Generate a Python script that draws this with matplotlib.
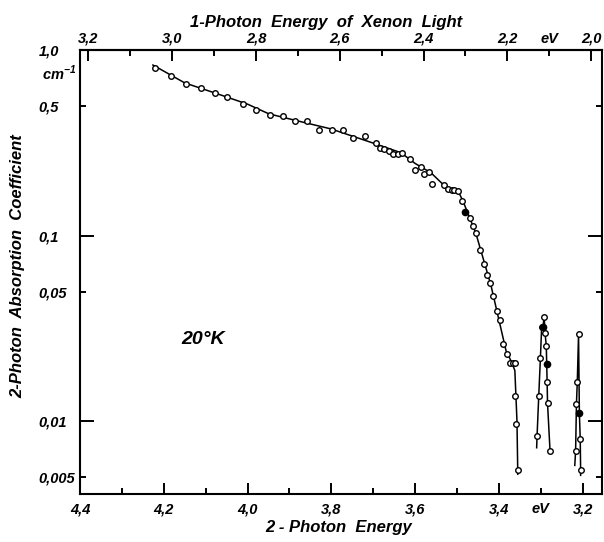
import numpy as np
import matplotlib.pyplot as plt

plt.rcParams['font.family'] = ['Liberation Sans', 'DejaVu Sans']
plt.rcParams['font.style'] = 'italic'
plt.rcParams['font.weight'] = 'bold'
plt.rcParams['axes.labelweight'] = 'bold'

# measured points (2-photon energy in eV, absorption coefficient in cm^-1)
main_E = [4.220, 4.183, 4.148, 4.112, 4.078, 4.048, 4.011, 3.979, 3.947, 3.916,
          3.886, 3.857, 3.829, 3.799, 3.772, 3.748, 3.719, 3.694, 3.683, 3.674,
          3.663, 3.654, 3.642, 3.632, 3.613, 3.600, 3.585, 3.578, 3.567, 3.560,
          3.532, 3.522, 3.513, 3.507, 3.497, 3.488, 3.469, 3.463, 3.454, 3.445,
          3.436, 3.428, 3.421, 3.415, 3.405, 3.397, 3.390, 3.380, 3.373, 3.367,
          3.362, 3.362, 3.359, 3.355]
main_k = [0.803, 0.725, 0.659, 0.625, 0.585, 0.557, 0.514, 0.478, 0.447, 0.440,
          0.417, 0.414, 0.370, 0.371, 0.371, 0.335, 0.344, 0.316, 0.298, 0.294,
          0.286, 0.276, 0.277, 0.278, 0.260, 0.227, 0.234, 0.215, 0.220, 0.190,
          0.188, 0.179, 0.177, 0.177, 0.175, 0.154, 0.125, 0.113, 0.103, 0.0841,
          0.0707, 0.0612, 0.0554, 0.0474, 0.0395, 0.0354, 0.0260, 0.0230, 0.0206, 0.0206,
          0.0206, 0.0137, 0.00967, 0.0055]

# hand drawn curve through the main points
curve_E = [4.226, 4.150, 4.078, 4.000, 3.949, 3.880, 3.801, 3.705, 3.634, 3.600,
           3.562, 3.527, 3.498, 3.486, 3.455, 3.419, 3.383, 3.369, 3.362, 3.357, 3.355]
curve_k = [0.83, 0.665, 0.587, 0.511, 0.453, 0.415, 0.376, 0.318, 0.280, 0.245,
           0.218, 0.183, 0.175, 0.154, 0.103, 0.054, 0.024, 0.0207, 0.0188, 0.0101, 0.0052]

# first narrow peak near 3.3 eV
peak2_E = [3.309, 3.305, 3.301, 3.298, 3.292, 3.290, 3.287, 3.285, 3.284, 3.278]
peak2_k = [0.00834, 0.0137, 0.0220, 0.0324, 0.0364, 0.030, 0.0256, 0.0163, 0.0125, 0.00692]
peak2_line_E = [3.310, 3.309, 3.305, 3.301, 3.298, 3.295, 3.292, 3.290, 3.287, 3.286, 3.285, 3.284, 3.278]
peak2_line_k = [0.00722, 0.00834, 0.0137, 0.022, 0.0324, 0.0324, 0.0364, 0.030, 0.0256, 0.0204, 0.0163, 0.0125, 0.00692]

# second narrow peak near 3.21 eV
peak3_E = [3.217, 3.215, 3.213, 3.210, 3.206, 3.205]
peak3_k = [0.0069, 0.01245, 0.01627, 0.0294, 0.00807, 0.0055]
peak3_line_E = [3.219, 3.217, 3.215, 3.213, 3.210, 3.208, 3.206, 3.205, 3.205]
peak3_line_k = [0.0058, 0.0069, 0.01245, 0.01627, 0.0294, 0.0111, 0.00807, 0.0055, 0.00513]

# filled symbols
filled_E = [3.482, 3.295, 3.286, 3.208]
filled_k = [0.135, 0.0324, 0.0204, 0.0111]

bottom_ticks = [4.4, 4.2, 4.0, 3.8, 3.6, 3.4, 3.2]
bottom_labels = ['4,4', '4,2', '4,0', '3,8', '3,6', '3,4', '3,2']
top_ticks = [3.2, 3.0, 2.8, 2.6, 2.4, 2.2, 2.0]
top_labels = ['3,2', '3,0', '2,8', '2,6', '2,4', '2,2', '2,0']
y_major = [1.0, 0.1, 0.01]
y_major_labels = ['1,0', '0,1', '0,01']
y_minor = [0.5, 0.05, 0.005]
y_minor_labels = ['0,5', '0,05', '0,005']
laser_shift = 1.18  # 2-photon minus 1-photon energy

fig = plt.figure(figsize=(6.04, 5.42), dpi=100)
ax = fig.add_axes([80 / 604, 48 / 542, 522 / 604, 444 / 542])

lw = 1.1
ax.plot(curve_E, curve_k, color='black', linewidth=lw)
ax.plot(peak2_line_E, peak2_line_k, color='black', linewidth=lw)
ax.plot(peak3_line_E, peak3_line_k, color='black', linewidth=lw)
mk = dict(linestyle='none', marker='o', markersize=4, markeredgewidth=1.0,
          markeredgecolor='black', markerfacecolor='white')
ax.plot(main_E, main_k, **mk)
ax.plot(peak2_E, peak2_k, **mk)
ax.plot(peak3_E, peak3_k, **mk)
ax.plot(filled_E, filled_k, linestyle='none', marker='o', markersize=4.5, color='black')

ax.set_yscale('log')
ax.set_xlim(4.4, 3.154)
ax.set_ylim(0.00407, 1.0)

for s in ax.spines.values():
    s.set_linewidth(1.5)

ax.set_xticks(bottom_ticks, bottom_labels)
ax.set_xticks(np.arange(4.3, 3.15, -0.2), ['', '', '', '', '', 'eV'], minor=True)
ax.set_yticks(y_major, y_major_labels)
ax.set_yticks(y_minor, y_minor_labels, minor=True)
for lab in ax.get_yticklabels(which='both'):
    lab.set_horizontalalignment('left')

ax.tick_params(axis='x', which='both', direction='in', top=False, labelsize=10.5, pad=6)
ax.tick_params(axis='x', which='major', length=8, width=1.4)
ax.tick_params(axis='x', which='minor', length=4, width=1.4)
ax.tick_params(axis='y', which='both', direction='in', right=True, labelsize=10.5, pad=30)
ax.tick_params(axis='y', which='major', length=10, width=1.4)
ax.tick_params(axis='y', which='minor', length=4, width=1.4)

top = ax.secondary_xaxis('top', functions=(lambda x: x - laser_shift, lambda x: x + laser_shift))
top.set_xticks(top_ticks, top_labels)
top.set_xticks(np.arange(3.1, 1.95, -0.2), ['', '', '', '', '', 'eV'], minor=True)
top.tick_params(which='both', direction='in', labelsize=10.5, pad=3, width=1.4)
top.tick_params(which='major', length=8)
top.tick_params(which='minor', length=4)
top.spines['top'].set_linewidth(1.5)

ax.set_xlabel('2 - Photon  Energy', fontsize=12)
ax.xaxis.set_label_coords(0.496, -0.058)
ax.set_ylabel('2-Photon  Absorption  Coefficient', fontsize=12)
ax.yaxis.set_label_coords(-0.104, 0.513)
fig.text(326 / 604, 1 - 23 / 542, '1-Photon  Energy  of  Xenon  Light',
         ha='center', va='center', fontsize=12)

ax.text(-0.006, 0.752, 'cm$^{\\mathregular{-1}}$', transform=ax.get_yaxis_transform(),
        ha='right', va='center', fontsize=10.5)
ax.text(4.157, 0.0276, '20°K', fontsize=14, va='center', ha='left')

fig.savefig('out.png', dpi=100)
